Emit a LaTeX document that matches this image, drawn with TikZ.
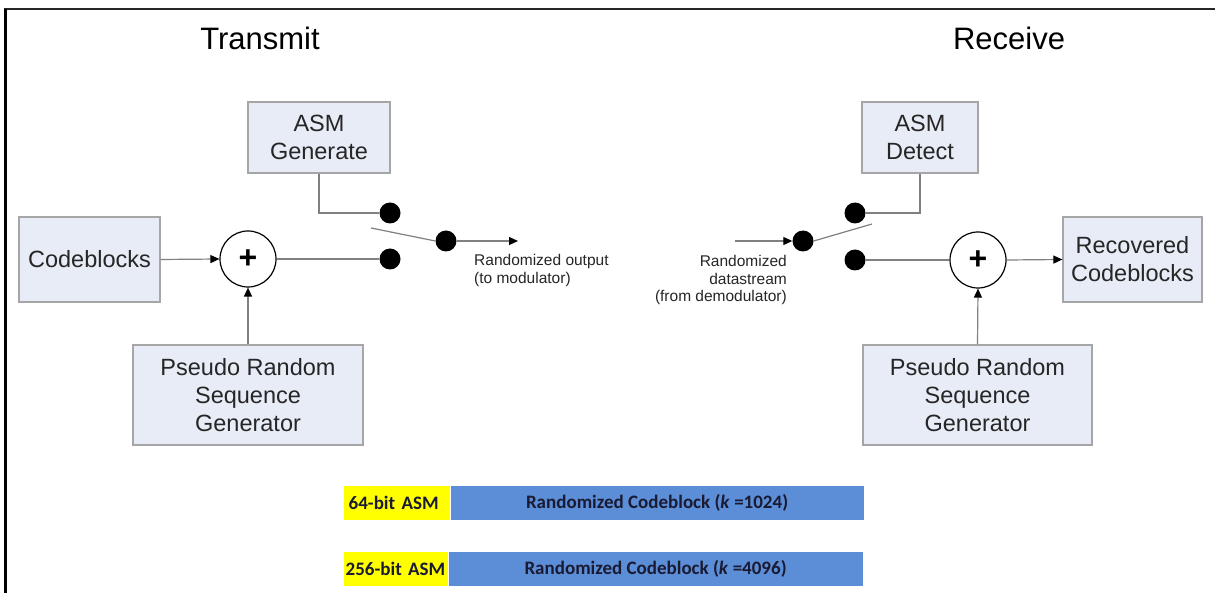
\documentclass[tikz,border=0pt]{standalone}
\usepackage{fontspec}
\setmainfont{Liberation Sans}
\newfontfamily\barfont{Carlito}
\usetikzlibrary{arrows.meta}
\definecolor{boxfill}{HTML}{E7ECF6}
\definecolor{boxline}{HTML}{A6A6A6}
\definecolor{wire}{HTML}{808080}
\definecolor{asmyellow}{HTML}{FFFF00}
\definecolor{cbblue}{HTML}{5B8ED6}
\definecolor{bartext}{HTML}{1A1A33}
\tikzset{
  blockbox/.style={draw=boxline, fill=boxfill, line width=1.3pt, inner sep=0pt, align=center,
    font=\fontsize{23.5}{28}\selectfont, text=black!85},
  xorcirc/.style={circle, draw=black, line width=1.2pt, minimum size=56pt, inner sep=0pt, fill=white,
    font=\fontsize{32}{32}\selectfont\bfseries},
  swdot/.style={circle, fill=black, minimum size=21pt, inner sep=0pt},
  wireline/.style={draw=wire, line width=1.2pt},
  wirearrow/.style={wireline, -{Triangle[length=9pt,width=8pt,color=black]}},
  smalllabel/.style={font=\fontsize{15.5}{17.5}\selectfont, inner sep=0pt, text=black!85},
  title/.style={font=\fontsize{31}{31}\selectfont, inner sep=0pt},
  yellowbar/.style={fill=asmyellow, draw=none, inner sep=0pt, minimum height=34pt, anchor=west,
    font=\barfont\bfseries\fontsize{19}{19}\selectfont, text=bartext, align=left},
  bluebar/.style={fill=cbblue, draw=none, inner sep=0pt, minimum height=34pt, anchor=west,
    font=\barfont\bfseries\fontsize{19}{19}\selectfont, text=bartext},
}
\begin{document}
\begin{tikzpicture}[x=1pt,y=-1pt]
\useasboundingbox (0,0) rectangle (1215,593);
\fill[white] (0,0) rectangle (1215,593);
% frame (top and left edges)
\draw[line width=2.5pt, black!85] (4,9) -- (1215,9);
\draw[line width=3pt, black] (5,9) -- (5,593);

% titles
\node[title] (tt) at (260,38) {Transmit};
\node[title] (tr) at (1009,38) {Receive};

% transmit blocks
\node[blockbox, minimum width=142pt, minimum height=71pt] (ag) at (319,137.5) {ASM\\Generate};
\node[blockbox, minimum width=141pt, minimum height=85pt] (cb) at (89.5,259.5) {Codeblocks};
\node[blockbox, minimum width=230pt, minimum height=100pt] (prt) at (248,395) {Pseudo Random\\Sequence\\Generator};
\node[xorcirc] (xt) at (248,259) {+};
\node[swdot] (dtu) at (390,213) {};
\node[swdot] (dtl) at (390,259) {};
\node[swdot] (dtc) at (446,241) {};
\coordinate (armT) at (371,228);
\coordinate (outT) at (518,241);

\draw[wirearrow] (cb.east) -- (xt.west);
\draw[wirearrow] (prt.north) -- (xt.south);
\draw[wireline] (xt.east) -- (dtl.west);
\draw[wireline] (ag.south) |- (dtu.west);
\draw[wireline] (armT) -- (dtc.west);
\draw[wirearrow] (dtc.east) -- (outT);
\node[smalllabel, anchor=west, align=left] (lt) at (474,270.5) {Randomized output\\(to modulator)};

% receive blocks
\node[blockbox, minimum width=116pt, minimum height=71pt] (ad) at (920,137.5) {ASM\\Detect};
\node[blockbox, minimum width=139pt, minimum height=85pt] (rc) at (1132.5,259.5) {Recovered\\Codeblocks};
\node[blockbox, minimum width=229pt, minimum height=100pt] (prr) at (977.5,395) {Pseudo Random\\Sequence\\Generator};
\node[xorcirc] (xr) at (978,260) {+};
\node[swdot] (dru) at (855,213) {};
\node[swdot] (drl) at (855,260) {};
\node[swdot] (drc) at (803,241) {};
\coordinate (armR) at (872,224);
\coordinate (inR) at (735,241);

\draw[wirearrow] (inR) -- (drc.west);
\draw[wireline] (drc.east) -- (armR);
\draw[wireline] (ad.south) |- (dru.east);
\draw[wireline] (drl.east) -- (xr.west);
\draw[wirearrow] (xr.east) -- (rc.west);
\draw[wirearrow] (prr.north) -- (xr.south);
\node[smalllabel, anchor=east, align=right] (lr) at (787,280) {Randomized\\datastream\\(from demodulator)};

% frame bars
\node[yellowbar, minimum width=106pt, text width=103pt] (y1) at (344,503) {\hspace*{3pt}64-bit ASM};
\node[bluebar, minimum width=413pt] (b1) at (y1.east) {Randomized Codeblock (\textit{k} =1024)};
\node[yellowbar, minimum width=104pt, text width=103pt] (y2) at (344,569) {\hspace*{1pt}256-bit ASM};
\node[bluebar, minimum width=414pt] (b2) at (y2.east) {Randomized Codeblock (\textit{k} =4096)};
\end{tikzpicture}
\end{document}
